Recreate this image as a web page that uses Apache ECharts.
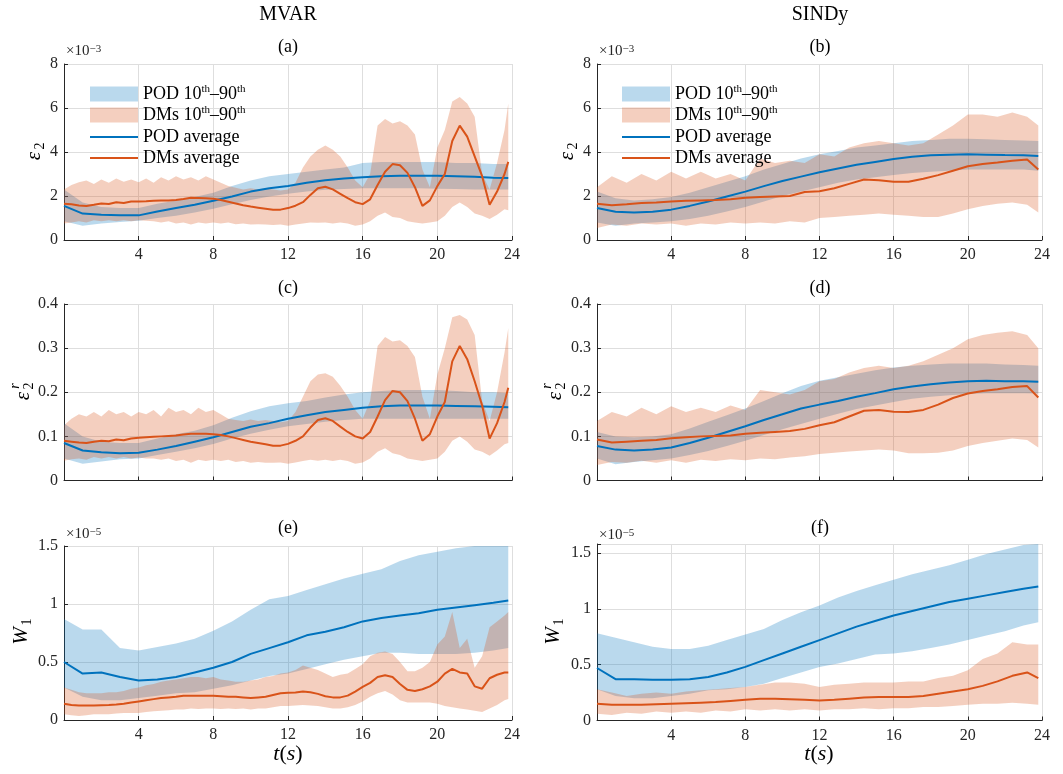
<!DOCTYPE html>
<html><head><meta charset="utf-8">
<script src="https://cdn.jsdelivr.net/npm/echarts@6/dist/echarts.min.js"></script>
<style>html,body{margin:0;padding:0;background:#fff}#c{width:1063px;height:774px}</style>
</head><body><div id="c"></div>
<script>
// ---------- time axes ----------
const tPod = [0,1,2,3,4,5,6,7,8,9,10,11,12,13,14,15,16,17,18,19,20,21,22,23,23.8];
const tMV = [0,0.4,0.8,1.2,1.6,2.0,2.4,2.8,3.2,3.6, 4.0,4.4,4.8,5.2,5.6,6.0,6.4,6.8,7.2,7.6,
  8.0,8.4,8.8,9.2,9.6,10.0,10.4,10.8,11.2,11.6, 12.0,12.4,12.8,13.2,13.6,14.0,14.4,14.8,15.2,15.6,
  16.0,16.4,16.8,17.2,17.6,18.0,18.4,18.8,19.2,19.6, 20.0,20.4,20.8,21.2,21.6,22.0,22.4,22.8,23.2,23.6, 23.8];
const tSI = [0,0.8,1.6,2.4,3.2,4.0,4.8,5.6,6.4,7.2, 8.0,8.8,9.6,10.4,11.2,12.0,12.8,13.6,14.4,15.2,
  16.0,16.8,17.6,18.4,19.2,20.0,20.8,21.6,22.4,23.2, 23.8];
const xTicks = [4,8,12,16,20,24];

// ---------- (a) MVAR eps2 (x1e-3) ----------
const podAvgA = [1.55,1.20,1.15,1.12,1.12,1.30,1.45,1.60,1.78,1.98, 2.20,2.35,2.45,2.60,2.72,2.80,2.85,2.90,2.92,2.92, 2.92,2.90,2.88,2.83,2.82];
const podLoA  = [0.85,0.65,0.75,0.82,0.88,1.00,1.10,1.25,1.42,1.62, 1.82,1.98,2.10,2.20,2.28,2.32,2.35,2.35,2.35,2.35, 2.33,2.32,2.30,2.30,2.30];
const podHiA  = [2.30,1.70,1.50,1.45,1.45,1.65,1.80,1.95,2.15,2.45, 2.70,2.90,3.00,3.10,3.20,3.30,3.50,3.55,3.55,3.55, 3.55,3.50,3.50,3.45,3.45];
const dmAvgA = [1.65,1.62,1.57,1.55,1.60,1.66,1.64,1.72,1.68,1.75, 1.75,1.76,1.78,1.79,1.80,1.82,1.86,1.92,1.91,1.90,
  1.88,1.82,1.74,1.66,1.58,1.52,1.47,1.42,1.37,1.38, 1.45,1.56,1.72,2.05,2.35,2.42,2.30,2.10,1.90,1.72,
  1.63,1.85,2.50,3.10,3.45,3.40,3.05,2.40,1.55,1.80, 2.45,3.00,4.50,5.20,4.70,3.80,2.90,1.60,2.20,3.00, 3.55];
const dmHiA = [2.30,2.50,2.62,2.70,2.55,2.75,2.60,2.80,2.65,2.75, 2.62,2.80,2.60,2.85,2.70,2.90,2.75,2.85,2.70,2.90,
  2.75,2.60,2.45,2.38,2.30,2.35,2.30,2.35,2.30,2.25, 2.30,2.60,3.30,3.80,4.10,4.30,4.10,3.80,3.30,2.70,
  2.40,3.00,5.20,5.50,5.30,5.40,5.20,4.80,3.20,2.40, 4.20,5.00,6.30,6.50,6.20,5.60,3.00,2.30,3.50,5.00, 6.20];
const dmLoA = [0.75,0.80,0.85,0.80,0.90,0.85,0.90,0.85,0.90,0.85, 0.90,0.88,0.85,0.80,0.85,0.75,0.80,0.70,0.80,0.75,
  0.80,0.75,0.80,0.72,0.75,0.70,0.72,0.70,0.68,0.70, 0.65,0.70,0.75,0.80,0.78,0.80,0.75,0.80,0.75,0.65,
  0.70,0.85,1.10,1.25,1.05,1.00,0.85,0.80,0.75,0.80, 0.85,1.10,1.50,1.70,1.50,1.20,1.10,0.95,1.15,1.40, 1.35];

// ---------- (b) SINDy eps2 (x1e-3) ----------
const podAvgB = [1.45,1.28,1.25,1.28,1.38,1.55,1.75,1.98,2.20,2.45, 2.68,2.88,3.08,3.25,3.42,3.55,3.68,3.78,3.85,3.88, 3.90,3.88,3.86,3.85,3.82];
const podLoB  = [0.80,0.65,0.75,0.80,0.85,0.95,1.10,1.30,1.50,1.75, 2.00,2.20,2.40,2.60,2.75,2.85,2.95,3.05,3.10,3.15, 3.20,3.20,3.20,3.20,3.15];
const podHiB  = [2.20,1.90,1.80,1.85,1.95,2.15,2.40,2.65,2.90,3.20, 3.45,3.70,3.90,4.05,4.20,4.30,4.40,4.50,4.55,4.60, 4.60,4.58,4.55,4.52,4.50];
const dmAvgB = [1.65,1.58,1.62,1.68,1.70,1.75,1.78,1.80,1.82,1.85, 1.92,1.95,1.98,2.00,2.18,2.22,2.35,2.55,2.75,2.72, 2.65,2.65,2.78,2.95,3.15,3.35,3.45,3.52,3.60,3.66, 3.20];
const dmHiB  = [2.40,2.90,2.60,3.00,2.70,3.10,2.80,3.10,2.80,3.00, 2.70,3.70,3.50,3.60,3.50,3.90,3.80,4.20,4.40,4.50, 4.40,4.30,4.40,4.80,5.20,5.70,5.70,5.60,5.80,5.60, 5.20];
const dmLoB  = [0.55,0.70,0.65,0.75,0.70,0.75,0.65,0.75,0.70,0.80, 0.75,0.80,0.75,0.85,0.80,1.00,1.05,1.10,1.15,1.20, 1.15,1.10,1.05,1.05,1.20,1.40,1.55,1.65,1.70,1.60, 1.25];

// ---------- (c) MVAR eps2^r ----------
const podAvgC = [0.085,0.068,0.064,0.062,0.063,0.070,0.078,0.088,0.098,0.110, 0.122,0.130,0.140,0.148,0.155,0.160,0.165,0.168,0.170,0.170, 0.170,0.169,0.168,0.167,0.166];
const podLoC  = [0.050,0.038,0.043,0.048,0.050,0.058,0.065,0.073,0.083,0.095, 0.106,0.115,0.123,0.128,0.133,0.137,0.140,0.140,0.140,0.140, 0.140,0.140,0.140,0.140,0.140];
const podHiC  = [0.130,0.100,0.088,0.085,0.085,0.095,0.105,0.113,0.125,0.142, 0.157,0.168,0.175,0.180,0.188,0.195,0.200,0.203,0.205,0.205, 0.205,0.203,0.200,0.200,0.198];
const dmAvgC = [0.090,0.088,0.086,0.085,0.088,0.090,0.089,0.093,0.091,0.095, 0.097,0.098,0.099,0.100,0.101,0.102,0.104,0.106,0.106,0.106,
  0.105,0.103,0.100,0.096,0.092,0.088,0.085,0.082,0.079,0.079, 0.083,0.090,0.100,0.120,0.137,0.141,0.135,0.122,0.110,0.100,
  0.095,0.110,0.145,0.182,0.203,0.200,0.180,0.140,0.090,0.105, 0.145,0.178,0.270,0.305,0.275,0.225,0.170,0.095,0.130,0.178, 0.210];
const dmHiC = [0.125,0.140,0.150,0.145,0.155,0.145,0.160,0.150,0.155,0.145, 0.155,0.150,0.160,0.145,0.165,0.155,0.160,0.150,0.165,0.155,
  0.160,0.150,0.140,0.137,0.135,0.138,0.135,0.137,0.135,0.132, 0.135,0.155,0.190,0.225,0.240,0.243,0.235,0.215,0.190,0.160,
  0.140,0.180,0.305,0.325,0.315,0.318,0.305,0.280,0.190,0.140, 0.240,0.300,0.370,0.375,0.365,0.330,0.180,0.135,0.200,0.290, 0.345];
const dmLoC = [0.045,0.048,0.050,0.047,0.053,0.050,0.053,0.050,0.053,0.050, 0.052,0.050,0.050,0.047,0.050,0.044,0.047,0.040,0.047,0.044,
  0.047,0.044,0.047,0.042,0.044,0.040,0.042,0.040,0.040,0.041, 0.038,0.041,0.044,0.047,0.045,0.047,0.044,0.047,0.044,0.038,
  0.041,0.050,0.065,0.073,0.062,0.058,0.050,0.047,0.044,0.047, 0.050,0.065,0.090,0.100,0.088,0.070,0.065,0.056,0.068,0.082, 0.085];

// ---------- (d) SINDy eps2^r ----------
const podAvgD = [0.078,0.070,0.068,0.070,0.075,0.085,0.097,0.110,0.123,0.137, 0.150,0.163,0.172,0.180,0.190,0.198,0.207,0.213,0.218,0.222, 0.225,0.226,0.225,0.225,0.224];
const podLoD  = [0.050,0.037,0.042,0.046,0.050,0.058,0.067,0.078,0.090,0.103, 0.116,0.128,0.140,0.151,0.162,0.170,0.178,0.185,0.190,0.193, 0.196,0.198,0.198,0.198,0.197];
const podHiD  = [0.110,0.100,0.098,0.100,0.105,0.118,0.133,0.148,0.163,0.180, 0.198,0.214,0.226,0.234,0.242,0.250,0.256,0.260,0.263,0.265, 0.265,0.265,0.263,0.262,0.260];
const dmAvgD = [0.093,0.086,0.088,0.090,0.092,0.096,0.098,0.100,0.101,0.102, 0.106,0.108,0.110,0.112,0.117,0.125,0.132,0.145,0.158,0.160, 0.156,0.155,0.160,0.172,0.187,0.197,0.203,0.207,0.212,0.214, 0.188];
const dmHiD  = [0.135,0.155,0.145,0.165,0.150,0.168,0.155,0.165,0.155,0.170, 0.160,0.205,0.200,0.195,0.205,0.225,0.230,0.245,0.255,0.260, 0.255,0.260,0.270,0.285,0.300,0.320,0.330,0.335,0.338,0.330, 0.300];
const dmLoD  = [0.035,0.042,0.040,0.045,0.040,0.046,0.040,0.047,0.044,0.048, 0.046,0.050,0.048,0.052,0.055,0.060,0.063,0.066,0.068,0.070, 0.068,0.062,0.062,0.063,0.068,0.078,0.085,0.090,0.095,0.092, 0.075];

// ---------- (e) MVAR W1 (x1e-5) ----------
const podAvgE = [0.50,0.40,0.41,0.37,0.34,0.35,0.37,0.41,0.45,0.50, 0.57,0.62,0.67,0.73,0.76,0.80,0.85,0.88,0.90,0.92, 0.95,0.97,0.99,1.01,1.03];
const podLoE  = [0.28,0.20,0.17,0.17,0.19,0.21,0.23,0.24,0.27,0.30, 0.34,0.38,0.40,0.44,0.48,0.52,0.55,0.58,0.58,0.57, 0.57,0.57,0.58,0.60,0.62];
const podHiE  = [0.87,0.78,0.78,0.62,0.60,0.63,0.66,0.70,0.77,0.85, 0.95,1.04,1.07,1.12,1.17,1.22,1.26,1.30,1.37,1.42, 1.45,1.48,1.50,1.50,1.50];
const dmAvgE = [0.140,0.130,0.125,0.125,0.125,0.128,0.130,0.133,0.140,0.150, 0.160,0.170,0.180,0.190,0.195,0.200,0.210,0.210,0.210,0.208,
  0.210,0.205,0.200,0.200,0.195,0.190,0.195,0.200,0.215,0.230, 0.235,0.238,0.245,0.240,0.225,0.205,0.195,0.195,0.210,0.245,
  0.285,0.320,0.370,0.385,0.370,0.310,0.260,0.250,0.265,0.290, 0.330,0.400,0.440,0.410,0.400,0.290,0.270,0.360,0.390,0.410, 0.410];
const dmHiE = [0.280,0.260,0.240,0.230,0.230,0.230,0.240,0.240,0.250,0.270, 0.280,0.300,0.310,0.330,0.340,0.350,0.360,0.370,0.370,0.360,
  0.370,0.350,0.340,0.330,0.330,0.340,0.350,0.370,0.380,0.400, 0.410,0.430,0.470,0.450,0.430,0.400,0.370,0.390,0.400,0.440,
  0.480,0.550,0.580,0.590,0.570,0.500,0.420,0.420,0.450,0.500, 0.650,0.720,0.930,0.620,0.700,0.450,0.550,0.800,0.850,0.900, 0.930];
const dmLoE = [0.050,0.040,0.035,0.040,0.050,0.050,0.050,0.055,0.060,0.060, 0.060,0.070,0.075,0.080,0.085,0.090,0.090,0.100,0.095,0.100,
  0.100,0.095,0.100,0.095,0.100,0.090,0.100,0.100,0.110,0.120, 0.120,0.125,0.130,0.125,0.120,0.110,0.100,0.100,0.110,0.130,
  0.160,0.200,0.230,0.250,0.220,0.170,0.150,0.150,0.150,0.150, 0.140,0.120,0.110,0.100,0.090,0.080,0.070,0.100,0.130,0.170, 0.180];

// ---------- (f) SINDy W1 (x1e-5) ----------
const podAvgF = [0.47,0.37,0.37,0.365,0.365,0.37,0.39,0.43,0.48,0.54, 0.60,0.66,0.72,0.78,0.84,0.89,0.94,0.98,1.02,1.06, 1.09,1.12,1.15,1.18,1.20];
const podLoF  = [0.28,0.22,0.20,0.20,0.22,0.24,0.27,0.28,0.30,0.33, 0.38,0.43,0.48,0.51,0.55,0.59,0.60,0.62,0.65,0.68, 0.72,0.76,0.80,0.85,0.88];
const podHiF  = [0.78,0.74,0.70,0.66,0.64,0.64,0.67,0.72,0.77,0.82, 0.90,0.97,1.03,1.10,1.16,1.21,1.26,1.31,1.35,1.39, 1.44,1.49,1.53,1.57,1.58];
const dmAvgF = [0.150,0.140,0.140,0.140,0.145,0.150,0.155,0.160,0.165,0.175, 0.185,0.195,0.195,0.190,0.185,0.180,0.185,0.195,0.205,0.210, 0.210,0.210,0.220,0.240,0.260,0.280,0.310,0.350,0.400,0.430, 0.380];
const dmHiF  = [0.280,0.250,0.220,0.240,0.250,0.240,0.260,0.270,0.280,0.290, 0.300,0.320,0.340,0.340,0.330,0.300,0.320,0.330,0.340,0.340, 0.340,0.350,0.350,0.380,0.400,0.450,0.550,0.600,0.700,0.680, 0.680];
const dmLoF  = [0.060,0.050,0.070,0.060,0.080,0.070,0.080,0.070,0.090,0.080, 0.100,0.090,0.100,0.090,0.100,0.090,0.100,0.100,0.110,0.100, 0.110,0.110,0.120,0.120,0.130,0.140,0.150,0.150,0.160,0.150, 0.140];

// ---------- labels ----------
const colTitles = ['MVAR', 'SINDy'];
const panelLetters = ['(a)','(b)','(c)','(d)','(e)','(f)'];
const legendNames = ['POD 10th–90th', 'DMs 10th–90th', 'POD average', 'DMs average'];

// ---------- styling / layout ----------
const SERIF = "'Liberation Serif', 'DejaVu Serif', serif";
const BLUE = '#0072BD', ORANGE = '#D95319';
const BLUE_A = 'rgba(0,114,189,0.27)', ORANGE_A = 'rgba(217,83,25,0.28)';
const INK = '#262626', GRID = '#dedede';

const panels = [
  {g:{left:64, top:64, width:448, height:176}, ymax:8, yint:2, xl:true, pod:[podLoA,podAvgA,podHiA], dm:[dmLoA,dmAvgA,dmHiA], tDm:tMV},
  {g:{left:597,top:64, width:445, height:176}, ymax:8, yint:2, xl:true, pod:[podLoB,podAvgB,podHiB], dm:[dmLoB,dmAvgB,dmHiB], tDm:tSI},
  {g:{left:64, top:304,width:448, height:176.5}, ymax:0.4, yint:0.1, xl:false, pod:[podLoC,podAvgC,podHiC], dm:[dmLoC,dmAvgC,dmHiC], tDm:tMV},
  {g:{left:597,top:304,width:445, height:176.5}, ymax:0.4, yint:0.1, xl:false, pod:[podLoD,podAvgD,podHiD], dm:[dmLoD,dmAvgD,dmHiD], tDm:tSI},
  {g:{left:64, top:546,width:448, height:174}, ymax:1.5, yint:0.5, xl:true, pod:[podLoE,podAvgE,podHiE], dm:[dmLoE,dmAvgE,dmHiE], tDm:tMV},
  {g:{left:597,top:544,width:445, height:176.5}, ymax:1.58, yint:0.5, xl:true, pod:[podLoF,podAvgF,podHiF], dm:[dmLoF,dmAvgF,dmHiF], tDm:tSI}
];

const zip = (t, v) => t.map((x, i) => [x, v[i]]);

// band drawn as one polygon, through the axis scales (api.coord)
const band = (name, i, t, lo, hi, fill) => ({
  type:'custom', name, xAxisIndex:i, yAxisIndex:i, silent:true, clip:true, animation:false,
  itemStyle:{color:fill},
  data:t.map((x, k) => [x, lo[k], hi[k]]),
  encode:{x:0, y:[1, 2]},
  renderItem:(params, api) => {
    if (params.dataIndex !== 0) return null;
    const pts = [];
    for (let k = 0; k < t.length; k++) pts.push(api.coord([t[k], hi[k]]));
    for (let k = t.length - 1; k >= 0; k--) pts.push(api.coord([t[k], lo[k]]));
    return {type:'polygon', shape:{points:pts}, style:{fill:fill, stroke:null, lineWidth:0}};
  }
});

const grids = [], xAxes = [], yAxes = [], series = [];
panels.forEach((p, i) => {
  grids.push(Object.assign({containLabel:false}, p.g));
  xAxes.push({
    type:'value', gridIndex:i, min:0, max:24, interval:4,
    axisLine:{show:true, onZero:false, lineStyle:{color:INK, width:1}},
    axisTick:{show:true, inside:true, length:4, lineStyle:{color:INK}},
    axisLabel:{show:p.xl, margin:7, fontFamily:SERIF, fontSize:16, color:INK,
      formatter: v => (xTicks.indexOf(Math.round(v)) >= 0 ? String(Math.round(v)) : '')},
    splitLine:{show:true, lineStyle:{color:GRID, width:1}}
  });
  yAxes.push({
    type:'value', gridIndex:i, min:0, max:p.ymax, interval:p.yint,
    axisLine:{show:true, onZero:false, lineStyle:{color:INK, width:1}},
    axisTick:{show:true, inside:true, length:4, lineStyle:{color:INK}},
    axisLabel:{margin:6, fontFamily:SERIF, fontSize:16, color:INK,
      formatter: v => { const k = v / p.yint; return Math.abs(k - Math.round(k)) < 1e-6 ? String(Math.round(v * 1000) / 1000) : ''; }},
    splitLine:{show:true, lineStyle:{color:GRID, width:1}}
  });
  const [pl, pa, ph] = p.pod, [dl, da, dh] = p.dm;
  const base = {type:'line', xAxisIndex:i, yAxisIndex:i, symbol:'none', showSymbol:false, silent:true, animation:false};
  series.push(band(legendNames[0], i, tPod, pl, ph, BLUE_A));
  series.push(band(legendNames[1], i, p.tDm, dl, dh, ORANGE_A));
  series.push(Object.assign({}, base, {name:legendNames[2], data:zip(tPod, pa), color:BLUE, lineStyle:{color:BLUE, width:2}}));
  series.push(Object.assign({}, base, {name:legendNames[3], data:zip(p.tDm, da), color:ORANGE, lineStyle:{color:ORANGE, width:2}}));
});

const richLegend = {
  fontFamily:SERIF, fontSize:18, color:'#000', lineHeight:20,
  rich:{ s:{fontFamily:SERIF, fontSize:11, color:'#000', lineHeight:12, verticalAlign:'top'} }
};
const fmtLegend = n => n.replace(/th/g, '{s|th}');
const legends = [];
[85, 617].forEach(lx => {
  legends.push({left:lx, top:79, orient:'vertical', itemWidth:48, itemHeight:15, itemGap:1, icon:'rect', selectedMode:false,
    data:[{name:legendNames[0], itemStyle:{color:BLUE_A}}, {name:legendNames[1], itemStyle:{color:ORANGE_A}}],
    formatter:fmtLegend, textStyle:richLegend});
  legends.push({left:lx, top:122, orient:'vertical', itemWidth:48, itemHeight:2, itemGap:1, icon:'rect', selectedMode:false,
    data:[{name:legendNames[2], itemStyle:{color:BLUE}}, {name:legendNames[3], itemStyle:{color:ORANGE}}],
    formatter:fmtLegend, textStyle:richLegend});
});

// ---------- text annotations ----------
const T = (x, y, text, font, extra) => Object.assign({type:'text', x, y, silent:true,
  style:{text, font, fill:'#000', textAlign:'center', textVerticalAlign:'middle', align:'center', verticalAlign:'middle'}}, extra || {});
const graphics = [];
graphics.push(T(288, 15, colTitles[0], '20px ' + SERIF));
graphics.push(T(820, 15, colTitles[1], '20px ' + SERIF));
const letterPos = [[288,47],[820,47],[288,288],[820,288],[288,528],[820,528]];
letterPos.forEach((p, i) => graphics.push(T(p[0], p[1], panelLetters[i], '18px ' + SERIF)));

// exponent labels
const expo = (x, y, e) => ({type:'text', x, y, silent:true,
  style:{text:'×10{s|' + e + '}', font:'15px ' + SERIF, fill:INK, textAlign:'left', textVerticalAlign:'middle', align:'left', verticalAlign:'middle',
    rich:{s:{fontSize:11, fontFamily:SERIF, fill:INK, color:INK, lineHeight:11, verticalAlign:'top'}}}});
graphics.push(expo(66, 51, '−3'), expo(599, 51, '−3'), expo(66, 534, '−5'), expo(599, 535, '−5'));

// y-axis names (rotated)
const yname = (cx, cy, main, sub, sup) => {
  const ch = [
    {type:'text', x:-4, y:0, style:{text:main, font:'italic 21px ' + SERIF, fill:'#000', textAlign:'center', textVerticalAlign:'middle', align:'center', verticalAlign:'middle'}},
    {type:'text', x:main === 'W' ? 10 : 6, y:6, style:{text:sub, font:'14px ' + SERIF, fill:'#000', textAlign:'center', textVerticalAlign:'middle', align:'center', verticalAlign:'middle'}}
  ];
  if (sup) ch.push({type:'text', x:6, y:-8, style:{text:sup, font:'italic 14px ' + SERIF, fill:'#000', textAlign:'center', textVerticalAlign:'middle', align:'center', verticalAlign:'middle'}});
  return {type:'group', x:cx, y:cy, rotation:Math.PI / 2, silent:true, children:ch};
};
graphics.push(yname(34, 152, 'ε', '2'), yname(567, 152, 'ε', '2'));
graphics.push(yname(23, 392, 'ε', '2', 'r'), yname(555, 392, 'ε', '2', 'r'));
graphics.push(yname(21, 632, 'W', '1'), yname(553, 632, 'W', '1'));

// x-axis names
const xname = cx => ({type:'text', x:cx, y:754, silent:true,
  style:{text:'{i|t}{n|(}{i|s}{n|)}', textAlign:'center', textVerticalAlign:'middle', align:'center', verticalAlign:'middle',
    rich:{i:{fontFamily:SERIF, fontStyle:'italic', fontSize:22, fill:'#000', color:'#000'}, n:{fontFamily:SERIF, fontSize:22, fill:'#000', color:'#000'}}}});
graphics.push(xname(288), xname(819));

const chart = echarts.init(document.getElementById('c'), null, {renderer:'canvas'});
chart.setOption({
  animation:false,
  backgroundColor:'#fff',
  grid:grids, xAxis:xAxes, yAxis:yAxes, series,
  legend:legends,
  graphic:graphics
});
</script>
</body></html>
